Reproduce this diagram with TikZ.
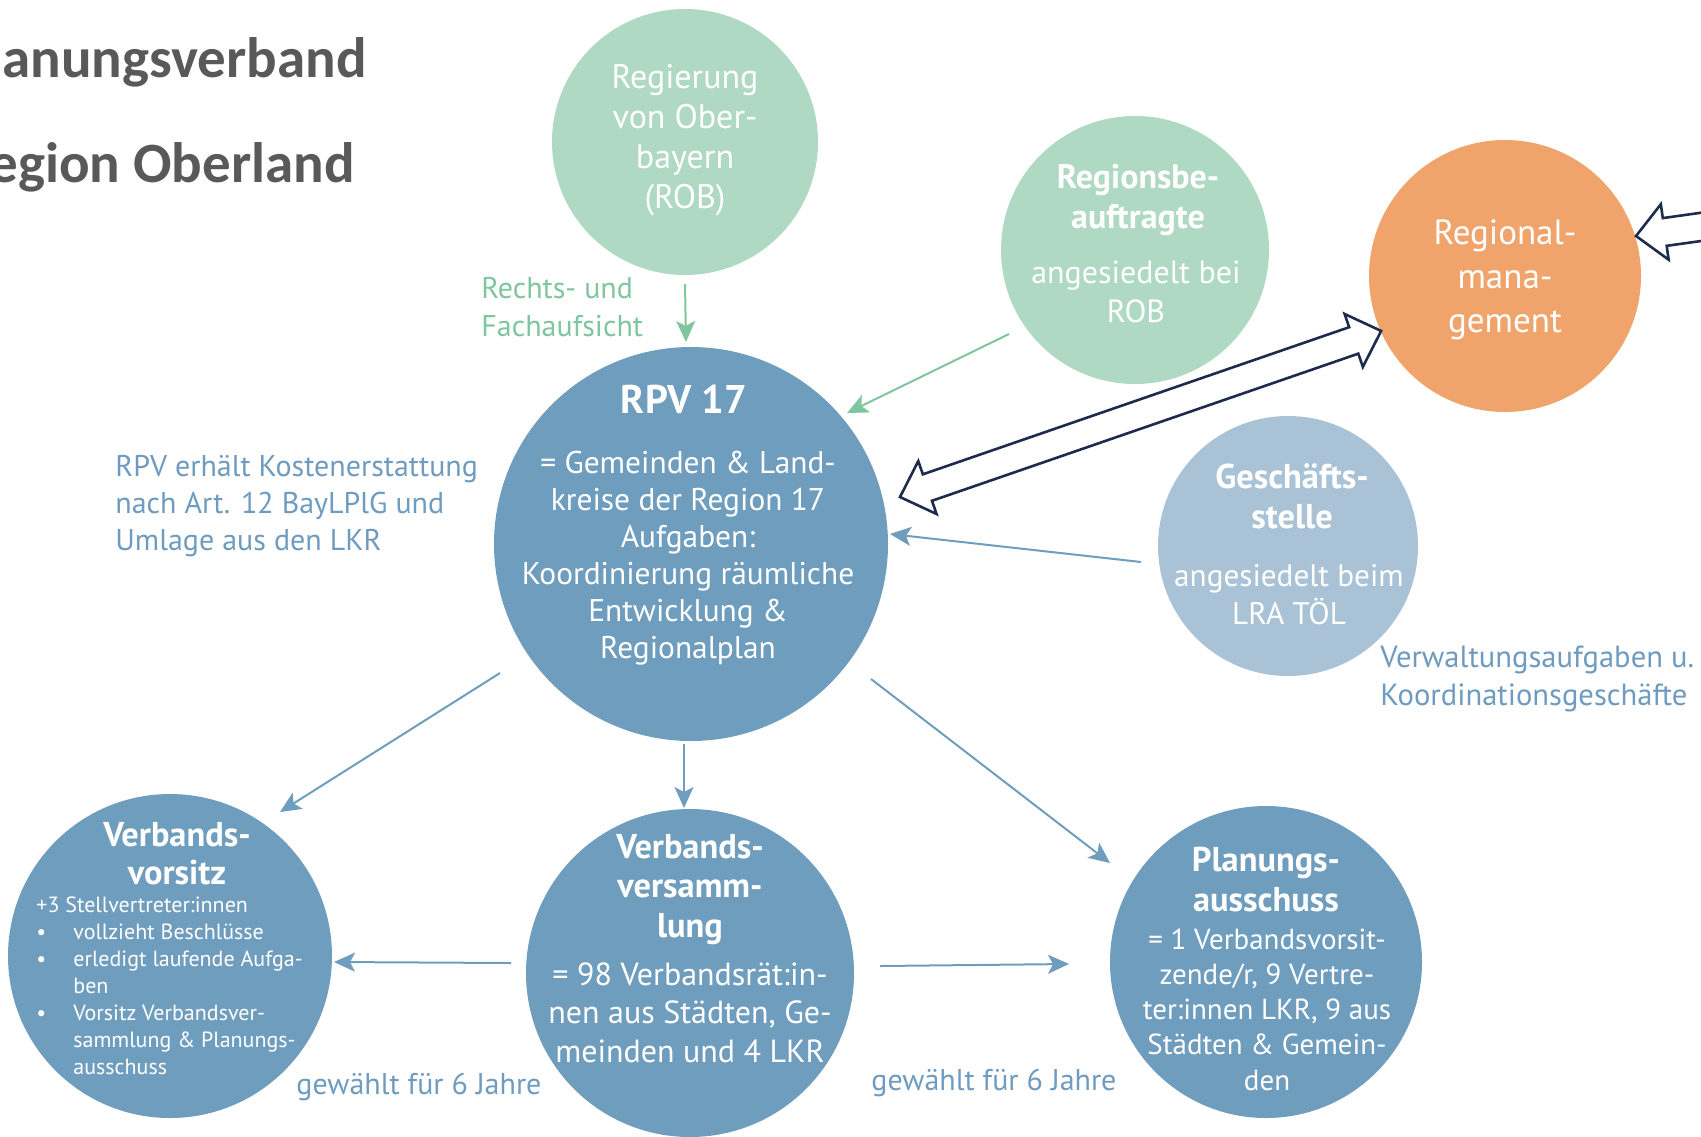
\documentclass[tikz,border=0pt]{standalone}
\usepackage{fontspec}
\setmainfont{PT Sans}
\newfontfamily\titlefont{Carlito}
\usetikzlibrary{arrows.meta}
\definecolor{gfill}{HTML}{AFD9C3}
\definecolor{gtext}{HTML}{7FC59E}
\definecolor{bfill}{HTML}{6F9DBD}
\definecolor{lbfill}{HTML}{A9C2D5}
\definecolor{ofill}{HTML}{F0A46C}
\definecolor{btext}{HTML}{6E9BBF}
\definecolor{navy}{HTML}{1D2B4C}
\definecolor{tgray}{HTML}{595959}
\newcommand\myfs[2]{\fontsize{#1}{#2}\selectfont}
\begin{document}
\begin{tikzpicture}[x=0.5pt,y=-0.5pt,
  circ/.style={circle, inner sep=0pt, draw=none},
  ctext/.style={text=white, align=center, inner sep=0pt, anchor=base},
  conn/.style={line width=1pt, -{Stealth[length=10.5pt,width=9.5pt,inset=2.5pt]}},
  bconn/.style={conn, draw=bfill},
  gconn/.style={conn, draw=gtext},
  fat/.style={draw=navy, line width=1.3pt, fill=white, line join=miter},
  lbl/.style={anchor=base west, inner sep=0pt, align=left},
  ttl/.style={anchor=base east, inner sep=0pt, text=tgray, font=\titlefont\bfseries\myfs{28.5}{30}}]
\useasboundingbox (0,0) rectangle (1701,1136);
\clip (0,0) rectangle (1701,1136);

% title
\node[ttl] (t1) at (367,77) {anungsverband};
\node[ttl] (t2) at (355,182) {egion Oberland};

% circles
\node[circ, fill=gfill, minimum size=266pt*0.5] (rob) at (685,142) {};
\node[circ, fill=gfill, minimum size=268pt*0.5] (rb) at (1135,250) {};
\node[circ, fill=ofill, minimum size=272pt*0.5] (rm) at (1505,276) {};
\node[circ, fill=bfill, minimum size=394pt*0.5] (rpv) at (691,544) {};
\node[circ, fill=lbfill, minimum size=260pt*0.5] (gs) at (1288,546) {};
\node[circ, fill=bfill, minimum size=324pt*0.5] (vv) at (170,956) {};
\node[circ, fill=bfill, minimum size=328pt*0.5] (vs) at (690,973) {};
\node[circ, fill=bfill, minimum size=312pt*0.5] (pa) at (1266,962) {};

% circle texts (anchor = baseline of last line)
\node[ctext, font=\myfs{17}{20}] (robt) at (685,208) {Regierung\\von Ober-\\bayern\\(ROB)};
\node[ctext, font=\bfseries\myfs{17}{20}] (rbt1) at (1138,228) {Regionsbe-\\auftragte};
\node[ctext, font=\myfs{16}{19.5}] (rbt2) at (1136,322) {angesiedelt bei\\ROB};
\node[ctext, font=\myfs{17.5}{22}] (rmt) at (1505,332) {Regional-\\mana-\\gement};
\node[ctext, font=\bfseries\myfs{20}{22}] (rpvt1) at (684,413) {RPV 17};
\node[ctext, font=\myfs{15.7}{18.5}] (rpvt2) at (688,658) {= Gemeinden \& Land-\\kreise der Region 17\\Aufgaben:\\Koordinierung räumliche\\Entwicklung \&\\Regionalplan};
\node[ctext, font=\bfseries\myfs{17.2}{20}] (gst1) at (1292,528) {Geschäfts-\\stelle};
\node[ctext, font=\myfs{15.6}{19}] (gst2) at (1289,624) {angesiedelt beim\\LRA TÖL};
\node[ctext, font=\bfseries\myfs{17.2}{19}] (vvt1) at (177,884) {Verbands-\\vorsitz};
\node[lbl, text=white, font=\myfs{11}{13.5}] (vvt2) at (36,1074) {+3 Stellvertreter:innen\\
\makebox[18.5pt][l]{•}vollzieht Beschlüsse\\
\makebox[18.5pt][l]{•}erledigt laufende Aufga-\\
\hspace*{18.5pt}ben\\
\makebox[18.5pt][l]{•}Vorsitz Verbandsver-\\
\hspace*{18.5pt}sammlung \& Planungs-\\
\hspace*{18.5pt}ausschuss};
\node[ctext, font=\bfseries\myfs{17.2}{19.75}] (vst1) at (690,937) {Verbands-\\versamm-\\lung};
\node[ctext, font=\myfs{16}{19.25}] (vst2) at (690,1062) {= 98 Verbandsrät:in-\\nen aus Städten, Ge-\\meinden und 4 LKR};
\node[ctext, font=\bfseries\myfs{17.2}{20}] (pat1) at (1266,911) {Planungs-\\ausschuss};
\node[ctext, font=\myfs{14.5}{17.6}] (pat2) at (1267,1090) {= 1 Verbandsvorsit-\\zende/r, 9 Vertre-\\ter:innen LKR, 9 aus\\Städten \& Gemein-\\den};

% free labels
\node[lbl, text=gtext, font=\myfs{15}{19}] (lab1) at (481,336) {Rechts- und\\Fachaufsicht};
\node[lbl, text=btext, font=\myfs{15}{18.5}] (lab2) at (115,550) {RPV erhält Kostenerstattung\\nach Art. 12 BayLPlG und\\Umlage aus den LKR};
\node[lbl, text=btext, font=\myfs{15.3}{19}] (lab3) at (1380,705) {Verwaltungsaufgaben u.\\Koordinationsgeschäfte};
\node[lbl, text=btext, font=\myfs{15}{18}] (lab4) at (296,1094) {gewählt für 6 Jahre};
\node[lbl, text=btext, font=\myfs{15}{18}] (lab5) at (871,1090) {gewählt für 6 Jahre};

% connector end points
\coordinate (a1s) at (685,284); \coordinate (a1e) at (686,342);
\coordinate (a2s) at (1009,334); \coordinate (a2e) at (847,413);
\coordinate (a3s) at (1141,562); \coordinate (a3e) at (890,534);
\coordinate (a4s) at (500,673); \coordinate (a4e) at (280,812);
\coordinate (a5s) at (684,744); \coordinate (a5e) at (684,808);
\coordinate (a6s) at (871,679); \coordinate (a6e) at (1110,863);
\coordinate (a7s) at (511,963); \coordinate (a7e) at (334,962);
\coordinate (a8s) at (880,966); \coordinate (a8e) at (1069,964);

\draw[gconn] (a1s) -- (a1e);
\draw[gconn] (a2s) -- (a2e);
\draw[bconn] (a3s) -- (a3e);
\draw[bconn] (a4s) -- (a4e);
\draw[bconn] (a5s) -- (a5e);
\draw[bconn] (a6s) -- (a6e);
\draw[bconn] (a7s) -- (a7e);
\draw[bconn] (a8s) -- (a8e);

% hollow double arrow RPV <-> Regionalmanagement
\coordinate (d1) at (900,497);
\coordinate (d2) at (1381,331);
\begin{scope}[shift={(d1)}, rotate=19.04]
\draw[fat] (0,0) -- (29,28) -- (29,14) -- (480,14) -- (480,28) -- (509,0) -- (480,-28) -- (480,-14) -- (29,-14) -- (29,-28) -- cycle;
\end{scope}

% hollow arrow entering Regionalmanagement from the right
\coordinate (e1) at (1636,236);
\begin{scope}[shift={(e1)}, rotate=8]
\draw[fat] (0,0) -- (29,28) -- (29,14) -- (160,14) -- (160,-14) -- (29,-14) -- (29,-28) -- cycle;
\end{scope}
\end{tikzpicture}
\end{document}
